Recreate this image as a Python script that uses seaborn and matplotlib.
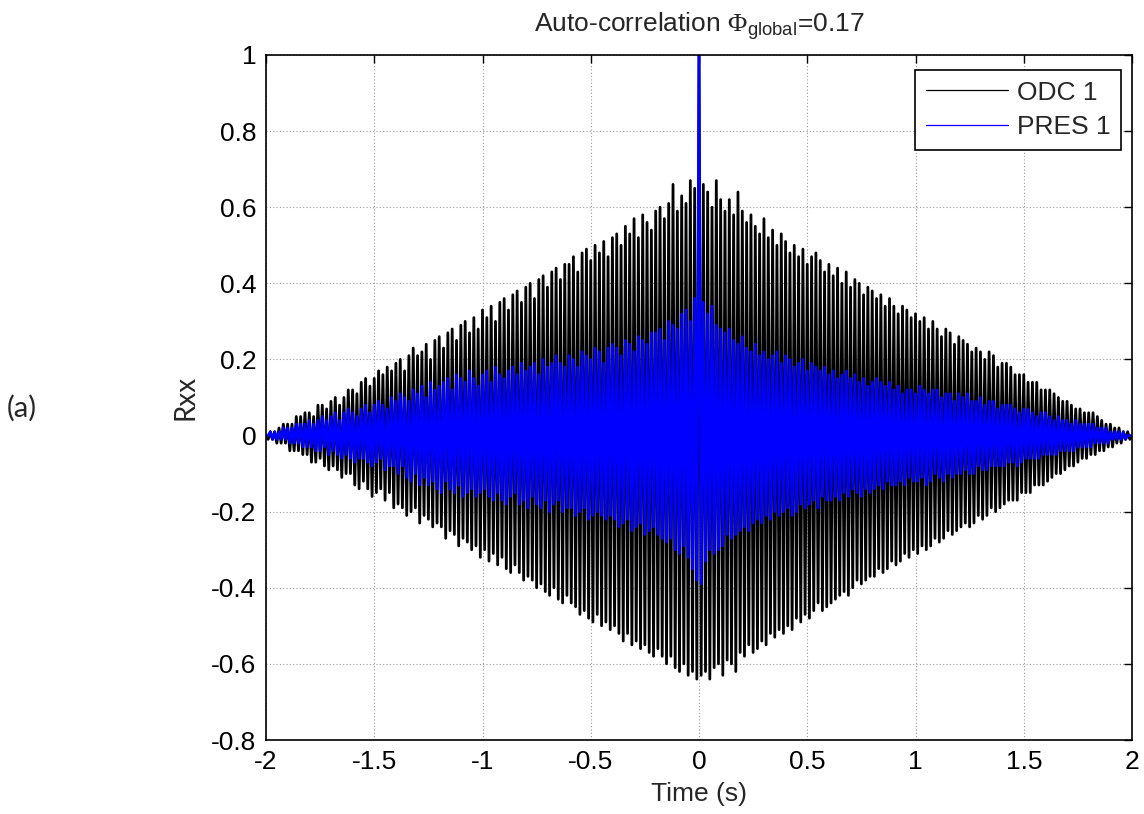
import numpy as np
import pandas as pd
import matplotlib
matplotlib.use("Agg")
import matplotlib.pyplot as plt
import seaborn as sns

# ---------------- data ----------------
lag_start, lag_stop = -2.0, 2.0
x_ticks = [-2, -1.5, -1, -0.5, 0, 0.5, 1, 1.5, 2]
x_tick_labels = ["-2", "-1.5", "-1", "-0.5", "0", "0.5", "1", "1.5", "2"]
y_ticks = [-0.8, -0.6, -0.4, -0.2, 0, 0.2, 0.4, 0.6, 0.8, 1]
y_tick_labels = ["-0.8", "-0.6", "-0.4", "-0.2", "0", "0.2", "0.4", "0.6", "0.8", "1"]
series_names = ["ODC 1", "PRES 1"]
title_text = "Auto-correlation $\\mathsf{\\Phi}_{\\mathrm{global}}$=0.17"

# ODC 1 auto-correlation, lag step 0.01 s from -2 to 2 s (401 samples)
odc_1 = [
    0.00, -0.01, 0.01, -0.01, 0.01, -0.02, 0.02, -0.02, 0.03, -0.02, 0.03, -0.04, 0.03, -0.04, 0.05, -0.04, 0.05, -0.05, 0.06, -0.05,
    0.06, -0.07, 0.05, -0.07, 0.08, -0.06, 0.08, -0.08, 0.07, -0.09, 0.09, -0.08, 0.10, -0.09, 0.08, -0.11, 0.10, -0.10, 0.12, -0.10,
    0.12, -0.13, 0.11, -0.14, 0.14, -0.12, 0.15, -0.14, 0.13, -0.16, 0.15, -0.15, 0.17, -0.14, 0.16, -0.17, 0.18, -0.15, 0.17, -0.19,
    0.19, -0.18, 0.20, -0.19, 0.17, -0.21, 0.21, -0.20, 0.23, -0.19, 0.21, -0.23, 0.22, -0.21, 0.24, -0.22, 0.20, -0.24, 0.25, -0.23,
    0.26, -0.24, 0.23, -0.27, 0.27, -0.25, 0.28, -0.26, 0.25, -0.29, 0.29, -0.27, 0.30, -0.28, 0.27, -0.30, 0.31, -0.29, 0.28, -0.32,
    0.33, -0.30, 0.31, -0.33, 0.34, -0.31, 0.30, -0.34, 0.35, -0.32, 0.36, -0.35, 0.33, -0.36, 0.37, -0.34, 0.38, -0.36, 0.35, -0.38,
    0.39, -0.37, 0.40, -0.38, 0.36, -0.40, 0.41, -0.39, 0.42, -0.41, 0.39, -0.42, 0.43, -0.40, 0.44, -0.43, 0.41, -0.44, 0.45, -0.42,
    0.45, -0.44, 0.47, -0.45, 0.43, -0.47, 0.48, -0.46, 0.49, -0.48, 0.46, -0.49, 0.50, -0.47, 0.48, -0.50, 0.51, -0.49, 0.47, -0.51,
    0.52, -0.50, 0.53, -0.52, 0.50, -0.54, 0.55, -0.52, 0.53, -0.55, 0.57, -0.54, 0.52, -0.56, 0.58, -0.55, 0.56, -0.57, 0.54, -0.58,
    0.59, -0.56, 0.60, -0.58, 0.57, -0.60, 0.61, -0.58, 0.66, -0.61, 0.59, -0.62, 0.63, -0.60, 0.61, -0.63, 0.67, -0.62, 0.65, -0.64,
    1.00,
    -0.63, 0.66, -0.62, 0.64, -0.64, 0.60, -0.61, 0.67, -0.60, 0.62, -0.63, 0.59, -0.59, 0.62, -0.60, 0.58, -0.62, 0.64, -0.57, 0.59,
    -0.58, 0.56, -0.55, 0.58, -0.57, 0.55, -0.56, 0.53, -0.54, 0.57, -0.55, 0.52, -0.52, 0.54, -0.53, 0.50, -0.51, 0.53, -0.52, 0.51,
    -0.50, 0.48, -0.51, 0.50, -0.48, 0.47, -0.49, 0.49, -0.47, 0.45, -0.48, 0.47, -0.46, 0.48, -0.44, 0.46, -0.46, 0.43, -0.45, 0.45,
    -0.44, 0.42, -0.43, 0.44, -0.42, 0.40, -0.41, 0.43, -0.42, 0.39, -0.40, 0.41, -0.38, 0.40, -0.39, 0.37, -0.38, 0.39, -0.37, 0.38,
    -0.37, 0.36, -0.35, 0.37, -0.36, 0.34, -0.35, 0.36, -0.33, 0.34, -0.34, 0.32, -0.33, 0.34, -0.31, 0.33, -0.32, 0.31, -0.30, 0.32,
    -0.31, 0.30, -0.29, 0.31, -0.30, 0.28, -0.29, 0.30, -0.27, 0.28, -0.28, 0.26, -0.27, 0.28, -0.25, 0.27, -0.26, 0.24, -0.25, 0.26,
    -0.24, 0.25, -0.23, 0.24, -0.24, 0.22, -0.23, 0.23, -0.21, 0.22, -0.22, 0.20, -0.21, 0.22, -0.19, 0.21, -0.20, 0.18, -0.19, 0.19,
    -0.18, 0.19, -0.17, 0.18, -0.17, 0.16, -0.17, 0.16, -0.15, 0.16, -0.15, 0.14, -0.15, 0.14, -0.13, 0.14, -0.13, 0.12, -0.13, 0.12,
    -0.12, 0.12, -0.11, 0.11, -0.10, 0.10, -0.10, 0.09, -0.09, 0.09, -0.08, 0.08, -0.08, 0.07, -0.07, 0.07, -0.06, 0.06, -0.06, 0.06,
    -0.05, 0.06, -0.05, 0.05, -0.04, 0.04, -0.04, 0.03, -0.03, 0.03, -0.03, 0.02, -0.02, 0.02, -0.02, 0.01, -0.01, 0.01, -0.01, 0.00,
]

# PRES 1 auto-correlation, same lag grid
pres_1 = [
    0.00, -0.00, 0.01, -0.01, 0.01, -0.01, 0.01, -0.01, 0.02, -0.01, 0.02, -0.02, 0.02, -0.02, 0.03, -0.02, 0.03, -0.03, 0.03, -0.03,
    0.04, -0.03, 0.03, -0.04, 0.04, -0.04, 0.05, -0.03, 0.04, -0.05, 0.05, -0.04, 0.06, -0.05, 0.04, -0.06, 0.06, -0.05, 0.07, -0.06,
    0.06, -0.07, 0.05, -0.06, 0.07, -0.06, 0.08, -0.07, 0.06, -0.08, 0.08, -0.07, 0.09, -0.06, 0.08, -0.09, 0.07, -0.08, 0.10, -0.08,
    0.09, -0.10, 0.11, -0.08, 0.10, -0.11, 0.09, -0.12, 0.12, -0.10, 0.11, -0.13, 0.13, -0.11, 0.10, -0.13, 0.14, -0.12, 0.12, -0.14,
    0.13, -0.15, 0.14, -0.12, 0.15, -0.14, 0.12, -0.15, 0.16, -0.13, 0.15, -0.16, 0.14, -0.15, 0.17, -0.14, 0.15, -0.16, 0.13, -0.15,
    0.16, -0.14, 0.17, -0.16, 0.14, -0.17, 0.18, -0.15, 0.16, -0.17, 0.15, -0.18, 0.17, -0.16, 0.18, -0.15, 0.16, -0.18, 0.19, -0.17,
    0.17, -0.19, 0.18, -0.16, 0.19, -0.18, 0.16, -0.19, 0.20, -0.17, 0.18, -0.20, 0.19, -0.18, 0.21, -0.17, 0.19, -0.20, 0.18, -0.19,
    0.21, -0.19, 0.20, -0.21, 0.18, -0.20, 0.22, -0.19, 0.21, -0.22, 0.20, -0.21, 0.23, -0.20, 0.22, -0.21, 0.19, -0.22, 0.23, -0.21,
    0.24, -0.22, 0.23, -0.24, 0.21, -0.23, 0.25, -0.22, 0.24, -0.25, 0.22, -0.24, 0.26, -0.23, 0.25, -0.26, 0.24, -0.25, 0.27, -0.24,
    0.27, -0.26, 0.28, -0.27, 0.25, -0.28, 0.30, -0.27, 0.29, -0.30, 0.28, -0.31, 0.32, -0.29, 0.33, -0.32, 0.30, -0.35, 0.36, -0.38,
    1.00,
    -0.39, 0.35, -0.33, 0.32, -0.30, 0.34, -0.31, 0.29, -0.30, 0.28, -0.29, 0.27, -0.26, 0.28, -0.27, 0.25, -0.26, 0.24, -0.25, 0.26,
    -0.24, 0.23, -0.25, 0.22, -0.23, 0.24, -0.22, 0.21, -0.23, 0.22, -0.21, 0.20, -0.22, 0.21, -0.20, 0.22, -0.21, 0.19, -0.20, 0.21,
    -0.19, 0.20, -0.21, 0.18, -0.20, 0.19, -0.18, 0.20, -0.19, 0.17, -0.18, 0.19, -0.17, 0.18, -0.19, 0.17, -0.16, 0.18, -0.17, 0.16,
    -0.17, 0.17, -0.16, 0.15, -0.17, 0.16, -0.15, 0.17, -0.16, 0.15, -0.14, 0.16, -0.15, 0.14, -0.16, 0.15, -0.14, 0.13, -0.15, 0.14,
    -0.14, 0.15, -0.13, 0.14, -0.14, 0.13, -0.12, 0.14, -0.13, 0.12, -0.13, 0.13, -0.12, 0.11, -0.13, 0.12, -0.11, 0.12, -0.12, 0.11,
    -0.12, 0.13, -0.11, 0.12, -0.13, 0.11, -0.12, 0.12, -0.10, 0.12, -0.11, 0.10, -0.12, 0.11, -0.10, 0.11, -0.11, 0.09, -0.10, 0.11,
    -0.10, 0.10, -0.09, 0.11, -0.10, 0.09, -0.10, 0.09, -0.08, 0.10, -0.09, 0.08, -0.09, 0.09, -0.08, 0.09, -0.08, 0.07, -0.08, 0.08,
    -0.08, 0.08, -0.07, 0.08, -0.07, 0.07, -0.08, 0.06, -0.07, 0.07, -0.06, 0.07, -0.06, 0.06, -0.06, 0.05, -0.06, 0.06, -0.05, 0.06,
    -0.05, 0.05, -0.05, 0.04, -0.05, 0.05, -0.04, 0.04, -0.04, 0.04, -0.04, 0.03, -0.04, 0.04, -0.03, 0.03, -0.03, 0.03, -0.03, 0.03,
    -0.03, 0.03, -0.02, 0.02, -0.02, 0.02, -0.02, 0.02, -0.02, 0.01, -0.01, 0.01, -0.01, 0.01, -0.01, 0.01, -0.01, 0.00, -0.00, 0.00,
]

# ---------------- styling ----------------
sns.set_style("white")
plt.rcParams["font.family"] = ["Liberation Sans", "DejaVu Sans"]
plt.rcParams["mathtext.fontset"] = "custom"
plt.rcParams["mathtext.rm"] = "Liberation Sans"
plt.rcParams["mathtext.it"] = "Liberation Sans:italic"
plt.rcParams["mathtext.bf"] = "Liberation Sans:bold"
plt.rcParams["mathtext.sf"] = "Liberation Serif"
plt.rcParams["axes.unicode_minus"] = False

FS = 19

time = np.linspace(lag_start, lag_stop, len(odc_1))
df = pd.concat([
    pd.DataFrame({"Time": time, "Rxx": odc_1, "series": series_names[0]}),
    pd.DataFrame({"Time": time, "Rxx": pres_1, "series": series_names[1]}),
], ignore_index=True)

fig = plt.figure(figsize=(11.44, 8.14), dpi=100)
ax = fig.add_axes([266 / 1144, 1 - 740 / 814, (1132 - 266) / 1144, (740 - 55) / 814])

colors = {series_names[0]: "#000000", series_names[1]: "#0000ff"}
widths = {series_names[0]: 2.0, series_names[1]: 2.0}
for name in series_names:
    sns.lineplot(data=df[df["series"] == name], x="Time", y="Rxx", color=colors[name],
                 linewidth=widths[name], estimator=None, sort=False, ax=ax, label=name,
                 legend=False)

ax.set_xlim(lag_start, lag_stop)
ax.set_ylim(-0.8, 1.0)
ax.set_xticks(x_ticks)
ax.set_xticklabels(x_tick_labels)
ax.set_yticks(y_ticks)
ax.set_yticklabels(y_tick_labels)
ax.tick_params(axis="both", which="both", direction="in", length=6, width=1.0,
               top=True, right=True, labelsize=FS, colors="black", pad=7)
ax.grid(True, color="#9a9a9a", linestyle=(0, (1, 2)), linewidth=0.8)
ax.set_axisbelow(True)
for sp in ax.spines.values():
    sp.set_color("black")
    sp.set_linewidth(1.2)

ax.set_xlabel("Time (s)", fontsize=FS, labelpad=6)
ax.set_ylabel("Rxx", fontsize=20, family=["Lato", "DejaVu Sans"])
ax.yaxis.set_label_coords((198 - 266) / 866, 0.5)
ax.set_title(title_text, fontsize=FS, pad=17)

handles = ax.get_lines()[:2]
leg = ax.legend(handles=handles, labels=series_names, loc="upper right",
                bbox_to_anchor=((1121 - 266) / 866, (740 - 70) / 685),
                borderaxespad=0, fontsize=FS, handlelength=3.1, handletextpad=0.35,
                borderpad=0.4, labelspacing=0.4, fancybox=False, framealpha=1,
                edgecolor="black")
leg.get_frame().set_linewidth(1.2)
for lh in leg.get_lines():
    lh.set_linewidth(0.9)

fig.text(7 / 1144, 1 - 408 / 814, "(a)", fontsize=21, family=["Lato", "DejaVu Sans"],
         ha="left", va="center")

fig.savefig("out.png", dpi=100, facecolor="white")
